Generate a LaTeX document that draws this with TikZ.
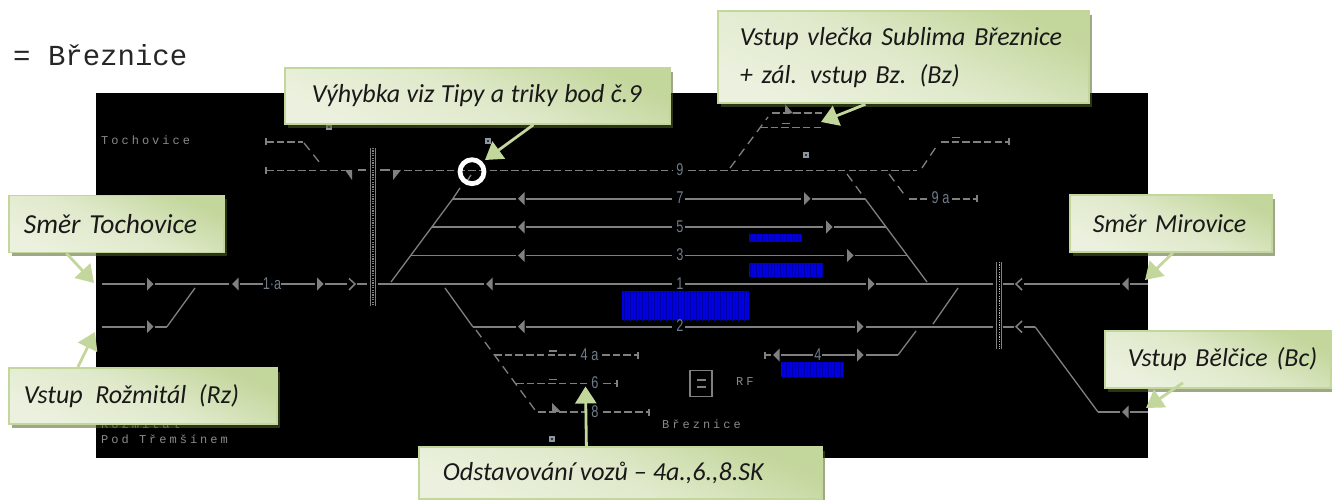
\documentclass[tikz,border=0pt]{standalone}
\usepackage{fontspec}
\usetikzlibrary{arrows.meta,shadows,patterns,calc}
\setmainfont[WordSpace=0.8]{Carlito}
\newfontfamily\topmono{Liberation Mono}
\newfontfamily\stnfont[LetterSpace=25]{Liberation Mono}
\newfontfamily\numfont{Liberation Sans}
\definecolor{trk}{HTML}{808080}
\definecolor{lbl}{HTML}{707C8A}
\definecolor{stn}{HTML}{8A8A8A}
\definecolor{cdark}{HTML}{C3D69B}
\definecolor{clight}{HTML}{EBF1DE}
\definecolor{cshadow}{HTML}{4F6228}
\definecolor{barblue}{HTML}{0000E0}
\definecolor{barline}{HTML}{0000A0}
\tikzset{
  trkline/.style={draw=trk,line width=1.7pt},
  dashline/.style={draw=trk,line width=1.6pt,dash pattern=on 7.5pt off 3.2pt},
  thindiag/.style={draw=trk,line width=1.3pt},
  dashdiag/.style={draw=trk,line width=1.3pt,dash pattern=on 9pt off 6pt},
  numlabel/.style={text=lbl,font=\numfont\fontsize{17}{17}\selectfont,xscale=.75,inner sep=0pt},
  stnlabel/.style={text=stn,font=\stnfont\fontsize{12}{12}\selectfont,inner sep=0pt,anchor=west},
  callout/.style n args={3}{draw=cdark,line width=1.8pt,top color=cdark,bottom color=clight,middle color=clight!70!cdark,
    shading angle=-25,minimum height=#2,text width=#1,inner xsep=#3,inner ysep=0pt,anchor=north west,align=left,
    font=\itshape\fontsize{26}{38}\selectfont,text=black!90,
    drop shadow={shadow xshift=3pt,shadow yshift=-4pt,fill=cshadow,opacity=.55}},
  pointer/.style={draw=cdark,line width=2.8pt,-{Triangle[length=17pt,width=21pt]}},
}
\newcommand{\sk}[1]{\spaceskip=#1pt\relax}
\newcommand{\rtri}[2]{\fill[trk] (#1,#2-6.5) -- (#1+6.5,#2) -- (#1,#2+6.5) -- cycle;}
\newcommand{\ltri}[2]{\fill[trk] (#1+6.5,#2-6.5) -- (#1,#2) -- (#1+6.5,#2+6.5) -- cycle;}
\newcommand{\stopmark}[2]{\draw[draw=trk,line width=1.4pt] (#1,#2-3.5) -- (#1,#2+3.5);}
\newcommand{\smallbox}[2]{\fill[lbl!80!white] (#1-3.4,#2-3.4) rectangle (#1+3.4,#2+3.4);\fill[black!80] (#1-1.3,#2-1.3) rectangle (#1+1.3,#2+1.3);}
\newcommand{\bluebar}[4]{\fill[barblue] (#1,#2) rectangle (#3,#4);\fill[pattern=vertical lines,pattern color=barline] (#1,#2) rectangle (#3,#4);}
\begin{document}
\begin{tikzpicture}[x=1pt,y=-1pt]
\useasboundingbox (0,0) rectangle (1332,500);
\fill[white] (0,0) rectangle (1332,500);
\fill[black] (96,93) rectangle (1148,458);
\node[anchor=west,inner sep=0pt,font=\topmono\fontsize{29}{29}\selectfont,text=black!85] (title) at (13,55) {= Březnice};
% station names
\node[stnlabel] (sTo) at (101,140.5) {Tochovice};
\node[stnlabel] (sRo) at (101,424) {Rožmitál};
\node[stnlabel] (sPo) at (101,439) {Pod Třemšínem};
\node[stnlabel] (sBr) at (662,424.5) {Březnice};
\node[stnlabel] (sRF) at (736,381.5) {RF};
% blue occupied bars
\bluebar{622}{291}{749}{320}
\bluebar{749}{234}{802}{241.5}
\bluebar{749}{263}{823}{277}
\bluebar{781}{362}{844}{377}
% small markers
\smallbox{329}{127}
\smallbox{488}{141}
\smallbox{806}{155}
\smallbox{552}{439}
% RF symbol
\draw[draw=trk,line width=1.4pt] (690,370.5) rectangle (712,396.5);
\draw[draw=trk,line width=1.4pt] (697,380) -- (706,380) (697,387) -- (706,387);
% gates
\draw[draw=trk,line width=1.2pt] (370.5,148) -- (370.5,306) (375.5,148) -- (375.5,306);
\draw[draw=trk,line width=1.8pt,dash pattern=on 1.2pt off 1.2pt] (373,148) -- (373,306);
\draw[draw=trk,line width=1.2pt] (996.5,262) -- (996.5,349) (1001.5,262) -- (1001.5,349);
\draw[draw=trk!60!white,line width=1pt,dash pattern=on 1.2pt off 1.2pt] (999,262) -- (999,349);
% track 9 and upper left
\draw[dashline] (266,141.7) -- (303,141.7);
\stopmark{266}{141.7}
\draw[dashdiag] (304,143) -- (320,163);
\draw[dashline] (266,170.3) -- (345,170.3);
\stopmark{266}{170.3}
\fill[trk] (345,170) -- (352,170) -- (352,180) -- cycle;
\draw[trkline] (358,170.3) -- (366,170.3);
\draw[trkline] (380,170.3) -- (390,170.3);
\fill[trk] (393,180) -- (393,170) -- (401,170) -- cycle;
\draw[dashline] (404,170.3) -- (672,170.3);
\node[numlabel] (n9) at (680,169.5) {9};
\draw[dashline] (688,170.3) -- (917,170.3);
% left diagonal fan
\draw[thindiag] (391,282) -- (453,198.5);
\draw[thindiag] (453,198.5) -- (460,188);
\draw[thindiag] (467,181) -- (471,175);
% track 7
\draw[trkline] (453,198.7) -- (516,198.7);
\ltri{518}{198.7}
\draw[trkline] (526,198.7) -- (672,198.7);
\node[numlabel] (n7) at (680,198) {7};
\draw[trkline] (685,198.7) -- (801,198.7);
\rtri{804}{198.7}
\draw[trkline] (812,198.7) -- (865,198.7);
% track 5
\draw[trkline] (432,227) -- (516,227);
\ltri{518}{227}
\draw[trkline] (526,227) -- (672,227);
\node[numlabel] (n5) at (680,226.5) {5};
\draw[trkline] (685,227) -- (823,227);
\rtri{826}{227}
\draw[trkline] (834,227) -- (886,227);
% track 3
\draw[trkline] (411,255.5) -- (516,255.5);
\ltri{518}{255.5}
\draw[trkline] (526,255.5) -- (672,255.5);
\node[numlabel] (n3) at (680,255) {3};
\draw[trkline] (685,255.5) -- (844,255.5);
\rtri{847}{255.5}
\draw[trkline] (855,255.5) -- (907,255.5);
% track 1 and 1a
\draw[trkline] (102,284) -- (145,284);
\rtri{147}{284}
\draw[trkline] (155,284) -- (229,284);
\ltri{232}{284}
\draw[trkline] (240,284) -- (263,284);
\node[numlabel] (n1a) at (272,283.5) {1·a};
\draw[trkline] (281,284) -- (315,284);
\rtri{317}{284}
\draw[trkline] (325,284) -- (347,284);
\draw[draw=trk,line width=1.5pt] (349,278.5) -- (355,284) -- (349,290);
\draw[trkline] (357,284) -- (367,284);
\draw[trkline] (378,284) -- (484,284);
\ltri{486}{284}
\draw[trkline] (495,284) -- (672,284);
\node[numlabel] (n1) at (680,283.5) {1};
\draw[trkline] (685,284) -- (866,284);
\rtri{868}{284}
\draw[trkline] (876,284) -- (993,284);
\draw[trkline] (1003,284) -- (1014,284);
\draw[draw=trk,line width=1.5pt] (1022,278.5) -- (1016,284) -- (1022,290);
\draw[trkline] (1024,284) -- (1120,284);
\ltri{1122}{284}
\draw[trkline] (1130,284) -- (1148,284);
% Rozmital entry
\draw[trkline] (102,326.7) -- (145,326.7);
\rtri{147}{326.7}
\draw[trkline] (155,326.7) -- (167,326.7);
\draw[thindiag] (167,326.7) -- (195,288);
% right diagonal fan
\draw[thindiag] (865,198.7) -- (927,282);
\draw[dashdiag] (847,174) -- (865,198.7);
% track 2
\draw[thindiag] (445,288) -- (473,327);
\draw[trkline] (473,326.7) -- (516,326.7);
\ltri{518}{326.7}
\draw[trkline] (526,326.7) -- (672,326.7);
\node[numlabel] (n2) at (680,326) {2};
\draw[trkline] (685,326.7) -- (855,326.7);
\rtri{857}{326.7}
\draw[trkline] (866,326.7) -- (993,326.7);
\draw[trkline] (1003,326.7) -- (1014,326.7);
\draw[draw=trk,line width=1.5pt] (1022,321) -- (1016,326.7) -- (1022,332.5);
\draw[trkline] (1024,326.7) -- (1035,326.7);
\draw[thindiag] (1035,326.7) -- (1098,412);
\draw[trkline] (1098,412) -- (1120,412);
\ltri{1122}{412}
\draw[trkline] (1130,412) -- (1148,412);
% track 4
\draw[trkline] (765,355) -- (771,355);
\stopmark{765}{355}
\ltri{773}{355}
\draw[trkline] (781,355) -- (813,355);
\node[numlabel] (n4) at (818,354.5) {4};
\draw[trkline] (822,355) -- (855,355);
\rtri{857}{355}
\draw[trkline] (866,355) -- (898,355);
\draw[thindiag] (898,355) -- (916,331);
\draw[thindiag] (933,324) -- (958,288);
% lower dashed group
\draw[dashdiag] (476,330) -- (535,410);
\draw[dashline] (494,355) -- (578,355);
\draw[trkline] (549,351) -- (557,351);
\node[numlabel] (n4a) at (589.5,354.5) {4 a};
\draw[dashline] (602,355) -- (638,355);
\stopmark{638}{355}
\draw[dashline] (516,383.5) -- (587,383.5);
\draw[trkline] (549,379.5) -- (557,379.5);
\node[numlabel] (n6) at (595,383) {6};
\draw[dashline] (603,383.5) -- (617,383.5);
\stopmark{617}{383.5}
\draw[dashline] (538,412) -- (587,412);
\fill[trk] (552,403) -- (552,412) -- (561,412) -- cycle;
\node[numlabel] (n8) at (595,411.5) {8};
\draw[dashline] (603,412) -- (649,412);
\stopmark{649}{412}
% upper right dashed group
\draw[dashdiag] (730,168) -- (768,117);
\draw[dashline] (760,127.5) -- (822,127.5);
\draw[trkline] (782,123.5) -- (790,123.5);
\draw[dashline] (772,113.3) -- (822,113.3);
\fill[trk] (785,104) -- (785,113.3) -- (793,113.3) -- cycle;
\draw[dashdiag] (922,168) -- (938,144);
\draw[dashline] (941,141.7) -- (1009,141.7);
\stopmark{1009}{141.7}
\draw[trkline] (952,137.5) -- (960,137.5);
\draw[dashdiag] (889,174) -- (906,197);
\draw[dashline] (909,198.7) -- (928,198.7);
\node[numlabel] (n9a) at (940.5,198) {9 a};
\draw[dashline] (952,198.7) -- (977,198.7);
\stopmark{977}{198.7}
% ring
\coordinate (ringc) at (472,171.7);
\draw[white,line width=4.8pt] (ringc) circle (12);
% callouts
\node[callout={331}{56}{27}] (cV) at (284,67) {\sk{6.5}\mbox{Výhybka viz Tipy a triky bod č.9}};
\node[callout={327}{92}{22}] (cS) at (717,10.5) {\mbox{Vstup vlečka Sublima Březnice}\\+ zál. vstup Bz. (Bz)};
\node[callout={185}{57}{15}] (cT) at (8,194.5) {\fontsize{27.5}{38}\selectfont\mbox{Směr Tochovice}};
\node[callout={238}{56}{15}] (cR) at (8,367) {\sk{12.5}\mbox{Vstup Rožmitál (Rz)}};
\node[callout={156}{57}{23}] (cM) at (1069,194) {\mbox{Směr Mirovice}};
\node[callout={180}{57}{23}] (cB) at (1104,330) {\mbox{Vstup Bělčice (Bc)}};
\node[callout={355}{52}{24}] (cO) at (418,446) {\sk{6}\mbox{Odstavování vozů – 4a.,6.,8.SK}};
% pointers
\coordinate (tV) at (485,160);
\coordinate (tS) at (821,122);
\coordinate (tT) at (94,283);
\coordinate (tR) at (95,332);
\coordinate (tO) at (585.5,386.5);
\coordinate (tM) at (1145,280);
\coordinate (tB) at (1146,408);
\draw[pointer] ([xshift=56pt]cV.south) -- (tV);
\draw[pointer] ([xshift=-38pt]cS.south) -- (tS);
\draw[pointer] ([xshift=-50pt]cT.south) -- (tT);
\draw[pointer] ([xshift=-65pt]cR.north) -- (tR);
\draw[pointer] ([xshift=-34pt]cO.north) -- (tO);
\draw[pointer] ([xshift=2pt]cM.south) -- (tM);
\draw[pointer] ([xshift=-35pt,yshift=6pt]cB.south) -- (tB);
\end{tikzpicture}
\end{document}
